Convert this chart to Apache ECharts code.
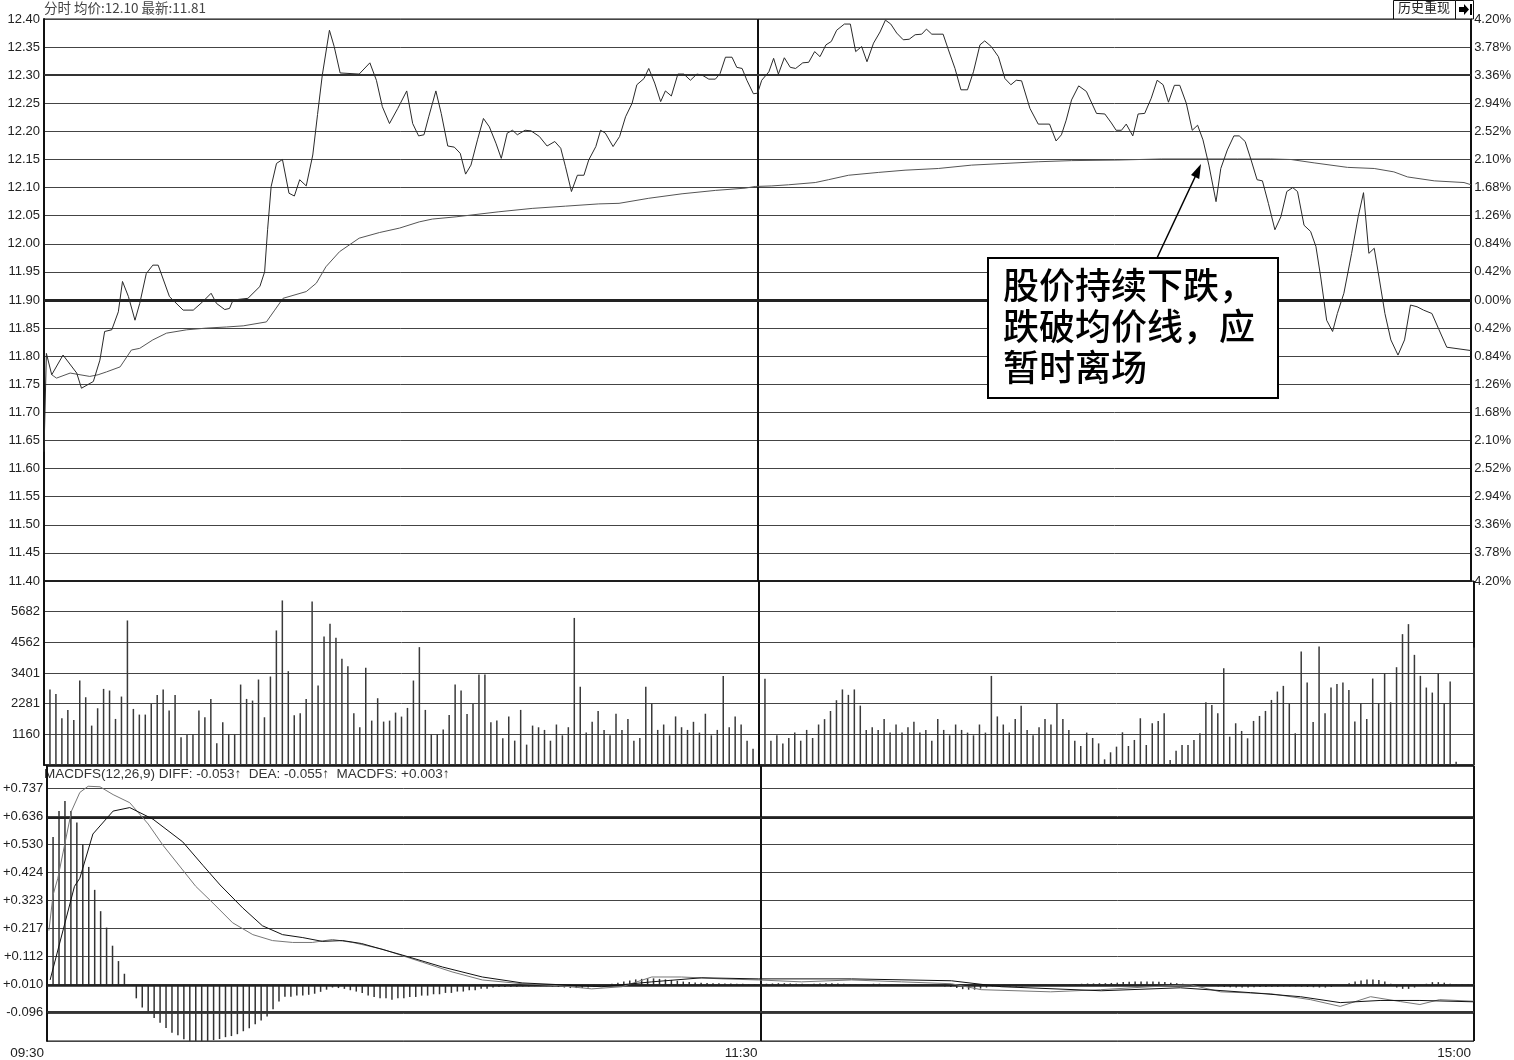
<!DOCTYPE html>
<html><head><meta charset="utf-8">
<script src="https://cdn.jsdelivr.net/npm/echarts@6/dist/echarts.min.js"></script>
<style>html,body{margin:0;padding:0;background:#fff}#c{width:1514px;height:1060px}</style>
</head><body><div id="c"></div>
<script>
// ---- time axis (minutes from 09:30, trading session 240 min) ----
const timeTicks = {0: '09:30', 120: '11:30', 240: '15:00'};
const prevClose = 11.90;
// ---- price line vertices (minute, price) ----
const priceT = [0,0.4,1.3,3.2,5.5,6.3,8.3,9.4,10.2,11.4,12.5,13.2,14.2,15.3,16.1,17.2,18.3,19.2,21.1,23.4,25.1,26.7,28.1,29.0,30.4,31.2,31.8,34.3,36.3,37.1,37.6,38.2,39.1,40.1,41.2,42.1,43.0,44.1,45.2,46.0,46.8,48.0,48.8,49.8,53.0,54.8,55.9,56.9,58.1,59.5,61.0,62.0,63.0,63.9,64.7,65.9,66.8,67.9,69.0,70.0,70.9,71.8,72.9,73.9,74.9,76.0,76.9,77.9,78.8,79.6,80.9,81.9,83.3,84.6,85.9,86.9,87.7,88.7,89.7,90.8,91.6,92.8,93.6,94.4,95.7,96.8,97.8,98.9,99.7,100.9,101.7,102.7,103.7,104.5,105.5,106.6,107.6,108.7,109.8,110.7,111.8,112.9,113.7,114.6,115.7,116.5,117.4,118.2,119.3,120.0,120.7,121.9,122.7,123.5,124.5,125.5,126.4,127.6,128.6,129.6,130.5,131.5,132.4,133.3,134.6,135.6,136.5,137.5,138.4,139.5,140.6,141.5,142.4,143.4,144.5,145.5,146.5,147.6,148.4,149.3,151.2,152.1,153.2,154.2,155.3,156.3,157.4,158.2,159.3,160.5,161.6,162.6,163.5,164.4,165.8,167.2,169.1,170.2,171.1,171.9,172.8,174.0,175.3,177.0,178.4,179.5,180.3,181.2,182.0,183.1,184.0,185.1,186.2,187.2,188.2,189.1,190.1,191.0,192.1,193.1,194.0,194.9,195.9,197.1,197.9,199.0,200.1,201.0,202.0,203.0,204.0,204.9,205.9,207.0,208.0,209.0,210.0,210.8,211.9,213.0,213.9,214.7,215.7,216.7,217.5,218.6,219.9,221.0,221.9,222.8,223.7,224.5,225.5,226.5,227.7,228.8,229.8,230.9,232.0,233.4,234.6,235.9,240];
const priceV = [11.63,11.805,11.767,11.802,11.770,11.743,11.755,11.793,11.844,11.847,11.879,11.933,11.906,11.864,11.894,11.947,11.962,11.962,11.906,11.882,11.882,11.897,11.912,11.894,11.883,11.885,11.900,11.903,11.924,11.950,12.025,12.102,12.143,12.150,12.090,12.085,12.114,12.103,12.158,12.230,12.300,12.380,12.351,12.304,12.302,12.322,12.291,12.244,12.214,12.241,12.272,12.214,12.192,12.194,12.226,12.272,12.232,12.174,12.172,12.161,12.124,12.140,12.185,12.223,12.208,12.179,12.152,12.197,12.202,12.194,12.202,12.201,12.191,12.174,12.182,12.170,12.137,12.093,12.122,12.122,12.149,12.173,12.202,12.197,12.173,12.191,12.226,12.250,12.283,12.294,12.312,12.286,12.253,12.272,12.263,12.302,12.302,12.291,12.302,12.300,12.293,12.293,12.303,12.332,12.332,12.314,12.312,12.291,12.267,12.268,12.291,12.306,12.330,12.302,12.331,12.314,12.312,12.322,12.323,12.342,12.333,12.354,12.360,12.380,12.391,12.391,12.342,12.351,12.324,12.357,12.377,12.398,12.391,12.375,12.363,12.364,12.372,12.373,12.382,12.373,12.373,12.345,12.312,12.274,12.274,12.306,12.354,12.361,12.351,12.333,12.294,12.283,12.291,12.290,12.241,12.213,12.213,12.183,12.194,12.220,12.256,12.281,12.271,12.232,12.231,12.215,12.202,12.202,12.213,12.192,12.231,12.232,12.259,12.291,12.283,12.252,12.282,12.282,12.250,12.202,12.211,12.185,12.140,12.075,12.134,12.167,12.192,12.192,12.182,12.149,12.114,12.112,12.072,12.025,12.048,12.093,12.100,12.093,12.033,12.022,11.995,11.941,11.864,11.844,11.876,11.912,11.983,12.048,12.091,11.983,11.992,11.941,11.876,11.829,11.802,11.829,11.891,11.888,11.882,11.876,11.847,11.816,11.81];
// ---- average price line vertices ----
const avgT = [1.3,2.1,4.4,7.7,9.1,10.5,12.8,14.7,16.1,18.3,20.6,24.0,27.3,30.7,33.5,37.4,38.8,40.2,44.1,45.8,47.4,49.7,53.0,56.4,59.8,63.1,65.3,69.3,76.5,82.1,87.7,93.3,96.7,101.7,107.3,112.9,117.9,119.6,122.4,125.2,129.7,131.9,135.3,140.3,144.8,150.4,156.0,161.6,167.2,172.8,180.6,187.9,200.7,206.3,209.7,213.6,219.2,223.7,227.0,229.3,233.8,238.8,240];
const avgV = [11.767,11.761,11.770,11.764,11.767,11.772,11.781,11.811,11.814,11.829,11.841,11.847,11.850,11.852,11.854,11.861,11.882,11.903,11.915,11.930,11.959,11.986,12.010,12.020,12.028,12.039,12.044,12.048,12.057,12.063,12.067,12.071,12.072,12.081,12.089,12.095,12.099,12.102,12.103,12.105,12.109,12.114,12.122,12.127,12.131,12.134,12.140,12.143,12.146,12.148,12.149,12.151,12.151,12.151,12.150,12.144,12.136,12.134,12.128,12.119,12.112,12.109,12.105];
// ---- volume per minute (index = minute) ----
const volume = [0,
2796,2635,1732,2041,1670,3130,2511,1460,2103,2820,
2759,1707,2536,5356,2078,1868,1868,2264,2598,2796,
2016,2598,1027,1113,1150,2016,1769,2449,804,1583,
1150,1150,2981,2449,2387,3167,1769,3278,4985,6098,
3476,1843,1917,2449,6061,2944,4762,5233,4713,3934,
3662,1917,1398,3600,1645,2474,1608,1645,1942,1794,
2115,3130,4367,2041,1150,1150,1311,1856,2981,2759,
1893,2264,3352,3352,1583,1645,990,1794,903,2041,
755,1460,1398,
1300,900,1500,1100,1400,5450,2900,1200,1600,2000,
1300,1100,1900,1300,1700,900,1000,2900,2300,1300,
1500,1100,1800,1400,1300,1600,1200,1900,1100,1300,
3300,1400,1800,1500,900,600,0,3200,900,1100,
800,1000,1200,900,1300,1000,1500,1700,2000,2400,
2800,2600,2800,2200,1300,1400,1300,1700,1200,1500,
1200,1400,1600,1200,1300,900,1700,1300,1100,1500,
1300,1200,1100,1500,1200,3300,1800,1500,1200,1700,
2200,1300,1100,1400,1700,1500,2300,1700,1300,900,
700,1200,1000,800,
210,470,680,1212,705,928,1732,742,1546,1633,
1917,186,532,742,742,928,1175,2326,2227,1917,
3587,1051,1546,1262,990,1633,1818,2004,2412,2721,
2932,2288,1175,4206,3055,1596,4391,1917,2870,3006,
3055,2783,1608,2288,1707,3204,2288,3402,2326,3624,
4849,5220,4082,3303,2870,2684,3402,2288,3093,124,
0,0,4354];
const volTickLabels = ['', '1160', '2281', '3401', '4562', '5682', ''];
// ---- MACD ----
const macdTickLabels = ['', '-0.096', '+0.010', '+0.112', '+0.217', '+0.323', '+0.424', '+0.530', '+0.636', '+0.737'];
const diffT = [0.3,1.0,1.8,4.1,5.5,6.9,8.9,11.1,13.9,17.0,19.5,25.0,27.9,31.2,34.6,37.9,41.3,44.6,48.0,51.4,56.4,63.1,68.1,73.2,79.9,86.6,91.6,96.7,101.7,106.7,113.5,119.7,126.9,135.3,143.7,152.1,157.1,168.8,177.2,185.6,192.3,197.4,205.8,212.5,217.5,222.6,227.6,230.9,234.2,240];
const diffV = [0.201,0.333,0.395,0.644,0.713,0.736,0.734,0.705,0.675,0.596,0.517,0.365,0.303,0.230,0.186,0.164,0.157,0.157,0.168,0.157,0.132,0.084,0.048,0.018,0.004,-0.004,-0.015,-0.007,0.029,0.029,0.022,0.018,0.011,0.018,0.011,0.004,-0.018,-0.026,-0.018,-0.007,0,-0.026,-0.033,-0.055,-0.080,-0.044,-0.062,-0.073,-0.055,-0.061];
const deaT = [0.5,4.6,5.5,7.7,11.1,13.9,17.8,22.8,26.2,29.1,32.9,36.2,39.6,43.0,46.3,49.7,52.9,59.8,66.5,73.2,79.9,86.6,93.3,101.7,110.1,119.7,135.3,152.1,160.5,177.3,190.6,202.4,210.8,217.5,224.2,230.9,240];
const deaV = [0.018,0.365,0.395,0.559,0.644,0.657,0.614,0.530,0.443,0.370,0.285,0.219,0.186,0.175,0.161,0.164,0.153,0.110,0.066,0.029,0.007,0,-0.007,0.011,0.026,0.022,0.022,0.015,-0.007,-0.022,-0.011,-0.029,-0.044,-0.066,-0.058,-0.058,-0.063];
const macdHist = [0,
0.548,0.644,0.681,0.644,0.602,0.522,0.437,0.352,0.273,0.212,0.145,0.088,0.041,
0,
-0.050,-0.084,-0.099,-0.123,-0.141,-0.160,-0.178,-0.187,-0.202,-0.208,-0.211,
-0.212,-0.208,-0.205,-0.201,-0.194,-0.190,-0.183,-0.172,-0.161,-0.146,-0.132,-0.117,-0.091,-0.062,-0.044,-0.044,-0.040,-0.040,-0.037,-0.033,-0.026,-0.018,
-0.010,-0.012,-0.015,-0.020,-0.025,-0.030,-0.040,-0.045,-0.050,-0.050,-0.055,-0.050,-0.050,-0.045,-0.045,-0.040,-0.040,-0.035,-0.035,-0.030,-0.030,-0.025,-0.025,-0.020,-0.020,-0.015,-0.015,-0.010,
-0.008,-0.008,-0.007,-0.007,-0.006,-0.006,-0.005,-0.005,-0.005,-0.006,-0.008,-0.010,-0.012,-0.012,-0.012,-0.010,-0.008,-0.004,0.000,0.004,0.008,
0.012,0.016,0.020,0.022,0.024,0.024,0.022,0.020,0.018,0.015,0.012,0.010,0.009,0.008,0.007,0.006,0.006,0.005,0.005,0.004,0.004,0.003,0.003,
0,
0.004,0.005,0.006,0.006,0.005,0.004,0.004,0.003,0.004,0.005,0.006,0.006,0.005,0.004,0.003,0.002,0.002,0.003,0.004,0.004,0.003,0.002,0.001,0.001,0.002,0.002,0.001,0.000,-0.002,-0.004,
-0.006,-0.008,-0.012,-0.016,-0.018,-0.018,-0.014,-0.010,-0.006,-0.004,-0.005,-0.006,-0.006,-0.005,-0.004,-0.004,-0.003,-0.002,-0.002,-0.001,0.000,0.002,0.003,0.004,0.005,0.005,0.006,
0.006,0.007,0.008,0.010,0.011,0.012,0.012,0.012,0.012,0.011,0.010,0.008,0.006,0.004,0.003,0.002,0.000,-0.002,-0.004,-0.006,-0.008,-0.009,-0.010,
-0.010,-0.010,-0.009,-0.008,-0.008,-0.007,-0.007,-0.006,-0.006,-0.006,-0.007,-0.008,-0.009,-0.010,-0.010,-0.008,-0.004,0.000,0.006,0.012,
0.016,0.020,0.020,0.018,0.012,0.004,-0.010,-0.015,-0.015,-0.010,-0.004,0.004,0.010,0.010,0.008,0.004,0.002,0.003,0.003,0.003];

const zip = (a, b) => a.map((v, i) => [v, b[i]]);
const volInterval = 1136.37;
const macdInterval = 0.104125;
const macdMin = -2 * macdInterval;
const macdMax = macdMin + 279 / 28.5 * macdInterval;

const lblFont = {fontFamily: 'Liberation Sans', fontSize: 13, color: '#222'};
const gridLine = {show: true, lineStyle: {color: '#444', width: 1}};
const vSplit = {show: true, lineStyle: {color: '#111', width: 2}};

const chart = echarts.init(document.getElementById('c'), null, {renderer: 'canvas'});
const option = {
  animation: false,
  backgroundColor: '#fff',
  grid: [
    {left: 44, top: 19, width: 1430, height: 562, show: true, borderColor: '#111', borderWidth: 1},
    {left: 44, top: 581, width: 1430, height: 184, show: true, borderColor: '#111', borderWidth: 1},
    {left: 44, top: 766, width: 1430, height: 279, show: true, borderColor: '#111', borderWidth: 1}
  ],
  xAxis: [0, 1, 2].map(i => ({
    type: 'value', gridIndex: i, min: 0, max: 240, interval: 120,
    axisLine: {show: true, lineStyle: {color: '#111', width: 1.5}},
    axisTick: {show: false},
    splitLine: vSplit,
    axisLabel: i === 2 ? Object.assign({show: true, align: 'right', margin: 5, padding: [0, 3, 0, 0],
      showMinLabel: true, showMaxLabel: true, fontSize: 13.5,
      formatter: v => timeTicks[v] || ''}, {fontFamily: 'Liberation Sans', color: '#222'}) : {show: false}
  })),
  yAxis: [
    {type: 'value', gridIndex: 0, min: 11.40, max: 12.40, interval: 0.05, position: 'left',
     axisLine: {show: true, lineStyle: {color: '#111', width: 2}}, axisTick: {show: false},
     splitLine: gridLine,
     axisLabel: Object.assign({margin: 4, formatter: v => v.toFixed(2)}, lblFont)},
    {type: 'value', gridIndex: 0, min: 11.40, max: 12.40, interval: 0.05, position: 'right',
     axisLine: {show: true, lineStyle: {color: '#111', width: 1}}, axisTick: {show: false},
     splitLine: {show: false},
     axisLabel: Object.assign({margin: 3, formatter: v => Math.abs((v - prevClose) / prevClose * 100).toFixed(2) + '%'}, lblFont)},
    {type: 'value', gridIndex: 1, min: 0, max: 6 * volInterval, interval: volInterval,
     axisLine: {show: true, lineStyle: {color: '#111', width: 2}}, axisTick: {show: false},
     splitLine: gridLine,
     axisLabel: Object.assign({margin: 4, formatter: v => volTickLabels[Math.round(v / volInterval)] || ''}, lblFont)},
    {type: 'value', gridIndex: 2, min: macdMin, max: macdMax, interval: macdInterval,
     axisLine: {show: true, lineStyle: {color: '#111', width: 2}}, axisTick: {show: false},
     splitLine: gridLine,
     axisLabel: Object.assign({margin: 4, formatter: v => {
       const k = (v - macdMin) / macdInterval; const r = Math.round(k);
       return Math.abs(k - r) < 0.01 ? (macdTickLabels[r] || '') : '';
     }}, lblFont)}
  ],
  series: [
    {type: 'line', xAxisIndex: 0, yAxisIndex: 0, data: zip(priceT, priceV), symbol: 'none',
     lineStyle: {color: '#2a2a2a', width: 1}, z: 5,
     markLine: {silent: true, symbol: 'none', label: {show: false},
       data: [{yAxis: 11.90, lineStyle: {color: '#222', width: 3, type: 'solid'}},
              {yAxis: 12.30, lineStyle: {color: '#333', width: 2, type: 'solid'}}]}},
    {type: 'line', xAxisIndex: 0, yAxisIndex: 0, data: zip(avgT, avgV), symbol: 'none',
     lineStyle: {color: '#555', width: 1}, z: 4},
    {type: 'bar', xAxisIndex: 1, yAxisIndex: 2, data: volume.map((v, i) => [i, v]), barWidth: 1.5,
     itemStyle: {color: '#3a3a3a'}},
    {type: 'bar', xAxisIndex: 2, yAxisIndex: 3, data: macdHist.map((v, i) => [i, v]), barWidth: 1.5,
     itemStyle: {color: '#333'},
     markLine: {silent: true, symbol: 'none', label: {show: false},
       data: [{yAxis: 0, lineStyle: {color: '#222', width: 2.5, type: 'solid'}},
              {yAxis: 6 * macdInterval, lineStyle: {color: '#222', width: 2, type: 'solid'}},
              {yAxis: -macdInterval, lineStyle: {color: '#333', width: 2, type: 'solid'}}]}},
    {type: 'line', xAxisIndex: 2, yAxisIndex: 3, data: zip(diffT, diffV), symbol: 'none',
     lineStyle: {color: '#777', width: 1}, z: 5},
    {type: 'line', xAxisIndex: 2, yAxisIndex: 3, data: zip(deaT, deaV), symbol: 'none',
     lineStyle: {color: '#111', width: 1}, z: 6}
  ],
  graphic: [
    {type: 'text', left: 44, top: 1, style: {text: '分时 均价:12.10 最新:11.81', fill: '#444',
      font: '13.5px "Noto Sans CJK SC", "Liberation Sans"'}},
    {type: 'rect', shape: {x: 1393.5, y: 0.5, width: 62, height: 18.5}, style: {fill: '#fff', stroke: '#111', lineWidth: 1}},
    {type: 'text', left: 1398, top: 1, style: {text: '历史重现', fill: '#222', font: '13px "Noto Sans CJK SC"'}},
    {type: 'rect', shape: {x: 1455.5, y: 0.5, width: 18, height: 18.5}, style: {fill: '#fff', stroke: '#111', lineWidth: 1}},
    {type: 'polygon', shape: {points: [[1459, 7], [1464, 7], [1464, 4], [1469, 9.5], [1464, 15], [1464, 12], [1459, 12]]}, style: {fill: '#000'}},
    {type: 'rect', shape: {x: 1470, y: 4, width: 2, height: 11}, style: {fill: '#000'}},
    {type: 'text', left: 44, top: 767, style: {text: 'MACDFS(12,26,9) DIFF: -0.053↑  DEA: -0.055↑  MACDFS: +0.003↑', fill: '#333',
      font: '13.5px "Liberation Sans", "DejaVu Sans"'}},
    // annotation
    {type: 'line', shape: {x1: 1157, y1: 258, x2: 1196, y2: 175}, style: {stroke: '#000', lineWidth: 1.5}, z: 20},
    {type: 'polygon', shape: {points: [[1201, 164], [1199.2, 179], [1191, 175]]}, style: {fill: '#000'}, z: 20},
    {type: 'rect', shape: {x: 988, y: 258, width: 290, height: 140}, style: {fill: '#fff', stroke: '#000', lineWidth: 2}, z: 20},
    {type: 'text', left: 1003, top: 267, style: {text: '股价持续下跌，', fill: '#000', font: '500 36px "Noto Sans CJK SC"'}, z: 21},
    {type: 'text', left: 1003, top: 308, style: {text: '跌破均价线，应', fill: '#000', font: '500 36px "Noto Sans CJK SC"'}, z: 21},
    {type: 'text', left: 1003, top: 349, style: {text: '暂时离场', fill: '#000', font: '500 36px "Noto Sans CJK SC"'}, z: 21}
  ]
};
chart.setOption(option);
</script></body></html>
